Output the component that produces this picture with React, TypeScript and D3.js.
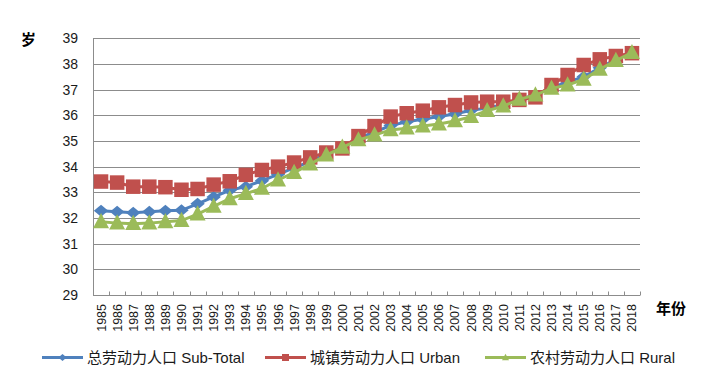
import React, { useEffect, useRef } from 'react'
import * as d3 from 'd3'

const years: string[] = [
    '1985', '1986', '1987', '1988', '1989', '1990', '1991', '1992', '1993', '1994',
    '1995', '1996', '1997', '1998', '1999', '2000', '2001', '2002', '2003', '2004',
    '2005', '2006', '2007', '2008', '2009', '2010', '2011', '2012', '2013', '2014',
    '2015', '2016', '2017', '2018'
]

// 总劳动力人口 Sub-Total
const subTotal: number[] = [
    32.28, 32.24, 32.2, 32.24, 32.28, 32.3, 32.55, 32.82, 33.08, 33.22,
    33.45, 33.7, 33.95, 34.2, 34.5, 34.75, 35.1, 35.35, 35.6, 35.75,
    35.85, 35.95, 36.05, 36.2, 36.28, 36.42, 36.62, 36.8, 37.08, 37.3,
    37.5, 37.85, 38.18, 38.43
]

// 城镇劳动力人口 Urban
const urban: number[] = [
    33.42, 33.38, 33.22, 33.22, 33.2, 33.1, 33.13, 33.3, 33.43, 33.68,
    33.87, 34.0, 34.16, 34.36, 34.55, 34.71, 35.19, 35.58, 35.95, 36.08,
    36.18, 36.31, 36.4, 36.5, 36.53, 36.53, 36.6, 36.7, 37.18, 37.57,
    37.96, 38.18, 38.31, 38.42
]

// 农村劳动力人口 Rural
const rural: number[] = [
    31.85, 31.8, 31.78, 31.8, 31.85, 31.9, 32.15, 32.45, 32.75, 32.95,
    33.15, 33.48, 33.77, 34.1, 34.45, 34.75, 35.04, 35.23, 35.43, 35.5,
    35.58, 35.66, 35.78, 35.95, 36.18, 36.36, 36.62, 36.79, 37.05, 37.18,
    37.4, 37.79, 38.13, 38.44
]

const yTicks: number[] = [29, 30, 31, 32, 33, 34, 35, 36, 37, 38, 39]
const seriesNames: string[] = ['总劳动力人口 Sub-Total', '城镇劳动力人口 Urban', '农村劳动力人口 Rural']

export default function App() {
    const ref = useRef<HTMLDivElement>(null)

    let width = 712, height = 386
    let left = 93, right = 640, top = 38.3, bottom = 295
    let colors = ['#4F81BD', '#C0504D', '#9BBB59']
    let font = '"Liberation Sans", "Noto Sans CJK SC", sans-serif'

    function drawMarker(g: any, type: number, x: number, y: number, s: number) {
        if (type == 0) {
            g.append('path')
                .attr('d', 'M' + x + ',' + (y - s / 2) + 'L' + (x + s * 0.6) + ',' + y + 'L' + x + ',' + (y + s / 2) + 'L' + (x - s * 0.6) + ',' + y + 'Z')
                .attr('fill', colors[0])
        } else if (type == 1) {
            g.append('rect')
                .attr('x', x - s / 2)
                .attr('y', y - s / 2)
                .attr('width', s)
                .attr('height', s)
                .attr('fill', colors[1])
        } else {
            g.append('path')
                .attr('d', 'M' + x + ',' + (y - s * 0.55) + 'L' + (x + s / 2) + ',' + (y + s * 0.4) + 'L' + (x - s / 2) + ',' + (y + s * 0.4) + 'Z')
                .attr('fill', colors[2])
        }
    }

    function graph() {
        d3.select(ref.current).selectAll('*').remove()

        var svg = d3.select(ref.current)
            .append('svg')
            .attr('width', width)
            .attr('height', height)
            .style('display', 'block')
            .style('font-family', font)

        var x = d3.scaleBand()
            .domain(years)
            .range([left, right])
            .padding(0)

        var y = d3.scaleLinear()
            .domain([29, 39])
            .range([bottom, top])

        // gridlines
        svg.append('g')
            .selectAll('line')
            .data(yTicks)
            .enter()
            .append('line')
            .attr('x1', left)
            .attr('x2', right)
            .attr('y1', (d: number) => Math.round(y(d)) + 0.5)
            .attr('y2', (d: number) => Math.round(y(d)) + 0.5)
            .attr('stroke', '#8c8c8c')
            .attr('stroke-width', 1)

        // left axis
        svg.append('line')
            .attr('x1', left + 0.5)
            .attr('x2', left + 0.5)
            .attr('y1', top)
            .attr('y2', bottom + 1)
            .attr('stroke', '#8c8c8c')

        // category ticks
        let bounds = years.map((d) => x(d) as number).concat([right])
        svg.append('g')
            .selectAll('line')
            .data(bounds)
            .enter()
            .append('line')
            .attr('x1', (d: number) => Math.round(d) + 0.5)
            .attr('x2', (d: number) => Math.round(d) + 0.5)
            .attr('y1', Math.round(bottom) + 0.5)
            .attr('y2', Math.round(bottom) - 3.5)
            .attr('stroke', '#8c8c8c')

        // y tick labels
        svg.append('g')
            .selectAll('text')
            .data(yTicks)
            .enter()
            .append('text')
            .attr('x', 78)
            .attr('y', (d: number) => y(d) + 5)
            .attr('text-anchor', 'end')
            .style('font-size', '14px')
            .attr('fill', '#1a1a1a')
            .text((d: number) => d)

        // x tick labels
        svg.append('g')
            .selectAll('text')
            .data(years)
            .enter()
            .append('text')
            .attr('transform', (d: string) => 'translate(' + ((x(d) as number) + x.bandwidth() / 2 + 4.5) + ',' + 304 + ') rotate(-90)')
            .attr('text-anchor', 'end')
            .style('font-size', '12.5px')
            .attr('fill', '#1a1a1a')
            .text((d: string) => d)

        svg.append('text')
            .attr('x', 21)
            .attr('y', 45)
            .style('font-size', '15px')
            .style('font-weight', 'bold')
            .text('岁')

        svg.append('text')
            .attr('x', 656)
            .attr('y', 314)
            .style('font-size', '15px')
            .style('font-weight', 'bold')
            .text('年份')

        let all = [subTotal, urban, rural]
        let sizes = [12, 14.5, 16]
        let line = d3.line<number>()
            .x((d, i) => (x(years[i]) as number) + x.bandwidth() / 2)
            .y((d) => y(d))

        all.forEach((arr, type) => {
            var g = svg.append('g')
            g.append('path')
                .datum(arr)
                .attr('d', line)
                .attr('fill', 'none')
                .attr('stroke', colors[type])
                .attr('stroke-width', 3)
            arr.forEach((v, i) => {
                drawMarker(g, type, (x(years[i]) as number) + x.bandwidth() / 2, y(v), sizes[type])
            })
        })

        // legend
        let legendX = [42, 265, 485]
        let legendY = 357.5
        seriesNames.forEach((name, i) => {
            var g = svg.append('g')
            g.append('line')
                .attr('x1', legendX[i])
                .attr('x2', legendX[i] + 41)
                .attr('y1', legendY)
                .attr('y2', legendY)
                .attr('stroke', colors[i])
                .attr('stroke-width', 3)
            drawMarker(g, i, legendX[i] + 20.5, legendY, 7)
            g.append('text')
                .attr('x', legendX[i] + 45)
                .attr('y', legendY + 5.5)
                .style('font-size', '15px')
                .attr('fill', '#1a1a1a')
                .text(name)
        })
    }

    useEffect(() => {
        graph()
    }, [])

    return (
        <div ref={ref} style={{ margin: -8 }}></div>
    )
}
